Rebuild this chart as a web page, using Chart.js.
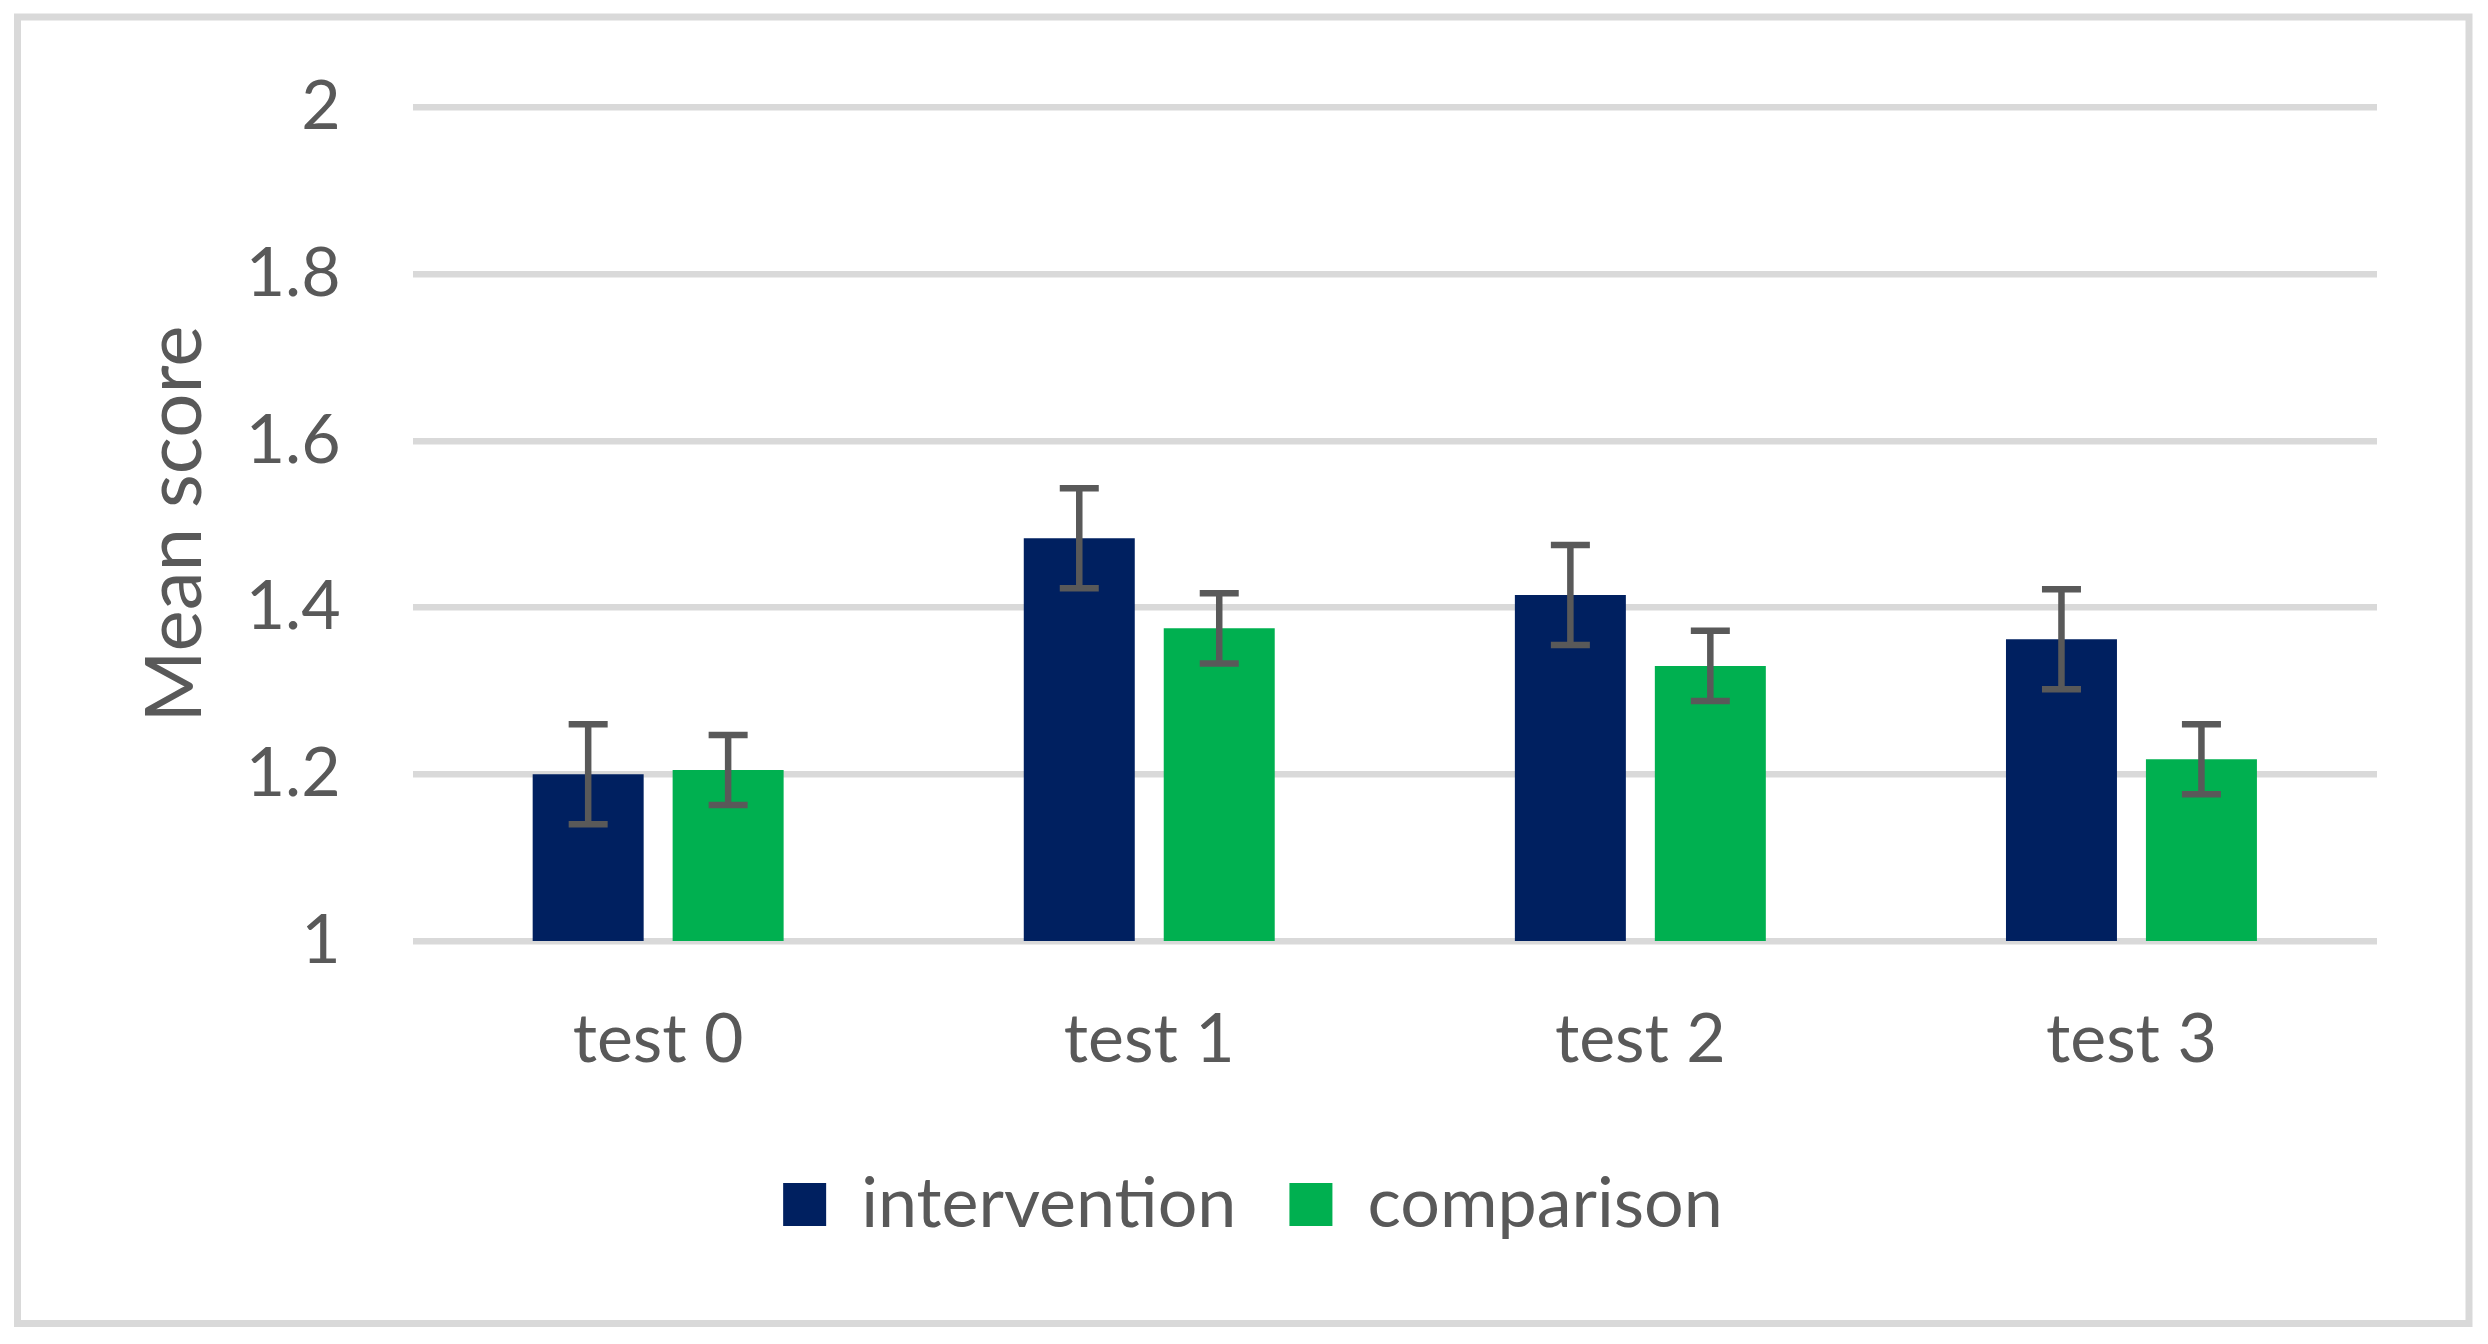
<!DOCTYPE html>
<html><head><meta charset="utf-8">
<script src="https://cdn.jsdelivr.net/npm/chart.js@4/dist/chart.umd.min.js"></script>
<style>html,body{margin:0;padding:0;background:#fff;}canvas{display:block;}</style>
</head><body>
<canvas id="c" width="2488" height="1344" style="width:2488px;height:1344px"></canvas>
<script>
const categories = ['test 0', 'test 1', 'test 2', 'test 3'];
const interventionValues = [1.20, 1.483, 1.415, 1.362];
const comparisonValues = [1.205, 1.375, 1.33, 1.218];
const interventionErrors = [0.06, 0.06, 0.06, 0.06];
const comparisonErrors = [0.042, 0.042, 0.042, 0.042];
const yTicks = [1, 1.2, 1.4, 1.6, 1.8, 2];
const seriesNames = ['intervention', 'comparison'];

const TEXT = '#595959';
const GRID = '#d9d9d9';
const FONT = 'Lato';

const borderPlugin = {
  id: 'outerBorder',
  beforeDraw(chart) {
    const ctx = chart.ctx;
    ctx.save();
    ctx.fillStyle = '#fff';
    ctx.fillRect(0, 0, chart.width, chart.height);
    ctx.strokeStyle = GRID;
    ctx.lineWidth = 7;
    ctx.strokeRect(17.5, 17, 2451.5, 1306.5);
    ctx.restore();
  }
};

const errorBarPlugin = {
  id: 'errorBars',
  afterDatasetsDraw(chart) {
    const ctx = chart.ctx;
    const y = chart.scales.y;
    ctx.save();
    ctx.strokeStyle = '#595959';
    ctx.lineWidth = 6.5;
    ctx.lineCap = 'butt';
    chart.data.datasets.forEach((ds, di) => {
      const meta = chart.getDatasetMeta(di);
      meta.data.forEach((el, i) => {
        const v = ds.data[i], e = ds.errors[i];
        const top = y.getPixelForValue(v + e);
        const bot = y.getPixelForValue(v - e);
        const x = el.x;
        const half = 19.5;
        ctx.beginPath();
        ctx.moveTo(x, top); ctx.lineTo(x, bot);
        ctx.moveTo(x - half, top); ctx.lineTo(x + half, top);
        ctx.moveTo(x - half, bot); ctx.lineTo(x + half, bot);
        ctx.stroke();
      });
    });
    ctx.restore();
  }
};

new Chart(document.getElementById('c'), {
  type: 'bar',
  data: {
    labels: categories,
    datasets: [
      { label: seriesNames[0], data: interventionValues, errors: interventionErrors,
        backgroundColor: '#002060', borderWidth: 0,
        categoryPercentage: 0.57, barPercentage: 0.793 },
      { label: seriesNames[1], data: comparisonValues, errors: comparisonErrors,
        backgroundColor: '#00B050', borderWidth: 0,
        categoryPercentage: 0.57, barPercentage: 0.793 }
    ]
  },
  options: {
    responsive: false,
    devicePixelRatio: 1,
    animation: false,
    layout: { padding: { left: 129, right: 111, top: 107.3, bottom: 94.5 } },
    plugins: {
      legend: {
        position: 'bottom',
        labels: {
          color: TEXT, boxWidth: 43, boxHeight: 43, padding: 53,
          font: { family: FONT, size: 70 }
        }
      },
      tooltip: { enabled: false }
    },
    scales: {
      x: {
        grid: { display: false, drawTicks: false },
        border: { display: false },
        ticks: { color: TEXT, font: { family: FONT, size: 68 }, padding: 58 },
        afterFit(scale) { scale.height = 175.5; }
      },
      y: {
        min: 1, max: 2,
        grid: { color: GRID, lineWidth: 6.5, drawTicks: false },
        border: { display: false },
        afterBuildTicks(scale) { scale.ticks = yTicks.map(v => ({ value: v })); },
        ticks: {
          color: TEXT, font: { family: FONT, size: 68 }, padding: 72,
          callback: v => String(Number(v.toFixed(1)))
        },
        title: {
          display: true, text: 'Mean score', color: TEXT,
          font: { family: FONT, size: 78 }, padding: { top: 0, bottom: 0 }
        },
        afterFit(scale) { scale.width = 283.6; scale.paddingTop = 0; scale.paddingBottom = 0; }
      }
    }
  },
  plugins: [borderPlugin, errorBarPlugin]
});
</script>
</body></html>
